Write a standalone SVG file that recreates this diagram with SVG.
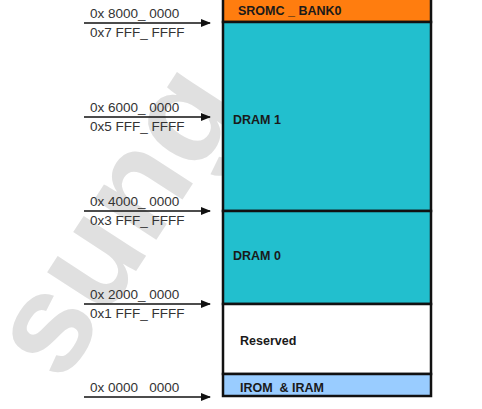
<svg xmlns="http://www.w3.org/2000/svg" width="482" height="409" viewBox="0 0 482 409">
<style>
.addr{font-family:"Liberation Sans",Arial,sans-serif;font-size:13.5px;fill:#333;}
.lbl{font-family:"Liberation Sans",Arial,sans-serif;font-size:12.5px;font-weight:bold;fill:#1a1a1a;}
.blk{stroke:#111;stroke-width:2.5;}
.conn{stroke:#111;stroke-width:1.6;fill:none;}
</style>
<defs>
<marker id="ah" markerWidth="10" markerHeight="8" refX="9" refY="4" orient="auto" markerUnits="userSpaceOnUse">
<path d="M0,0 L10,4 L0,8 Z" fill="#111"/>
</marker>
</defs>
<rect width="482" height="409" fill="#fff"/>
<text x="0" y="0" transform="translate(62,385) rotate(-57)" font-family="'Liberation Sans',Arial,sans-serif" font-size="140" font-weight="bold" fill="#e0e0e0">sung</text>
<g id="connectors">
<line class="conn" x1="84" y1="23" x2="210" y2="23" marker-end="url(#ah)"/>
<line class="conn" x1="84" y1="117" x2="210" y2="117" marker-end="url(#ah)"/>
<line class="conn" x1="84" y1="211" x2="210" y2="211" marker-end="url(#ah)"/>
<line class="conn" x1="84" y1="304" x2="210" y2="304" marker-end="url(#ah)"/>
<line class="conn" x1="84" y1="397" x2="210" y2="397" marker-end="url(#ah)"/>
</g>
<g id="addr-labels">
<text class="addr" x="90" y="18">0x 8000_ 0000</text>
<text class="addr" x="90" y="37">0x7 FFF_ FFFF</text>
<text class="addr" x="90" y="112">0x 6000_ 0000</text>
<text class="addr" x="90" y="131">0x5 FFF_ FFFF</text>
<text class="addr" x="90" y="206">0x 4000_ 0000</text>
<text class="addr" x="90" y="225">0x3 FFF_ FFFF</text>
<text class="addr" x="90" y="299">0x 2000_ 0000</text>
<text class="addr" x="90" y="318">0x1 FFF_ FFFF</text>
<text class="addr" x="90" y="392">0x 0000 &#160; 0000</text>
</g>
<g id="sromc">
<rect class="blk" x="223" y="-2" width="208" height="24" fill="#ff7d0f"/>
<text class="lbl" x="238" y="15">SROMC _ BANK0</text>
</g>
<g id="dram1">
<rect class="blk" x="223" y="22" width="208" height="189" fill="#22bfce"/>
<text class="lbl" x="233" y="124">DRAM 1</text>
</g>
<g id="dram0">
<rect class="blk" x="223" y="211" width="208" height="93" fill="#22bfce"/>
<text class="lbl" x="233" y="260">DRAM 0</text>
</g>
<g id="reserved">
<rect class="blk" x="223" y="304" width="208" height="70" fill="#fff"/>
<text class="lbl" x="240" y="345">Reserved</text>
</g>
<g id="irom">
<rect class="blk" x="223" y="374" width="208" height="22" fill="#99ccff"/>
<text class="lbl" x="240" y="392">IROM &#160;&amp; IRAM</text>
</g>
</svg>
